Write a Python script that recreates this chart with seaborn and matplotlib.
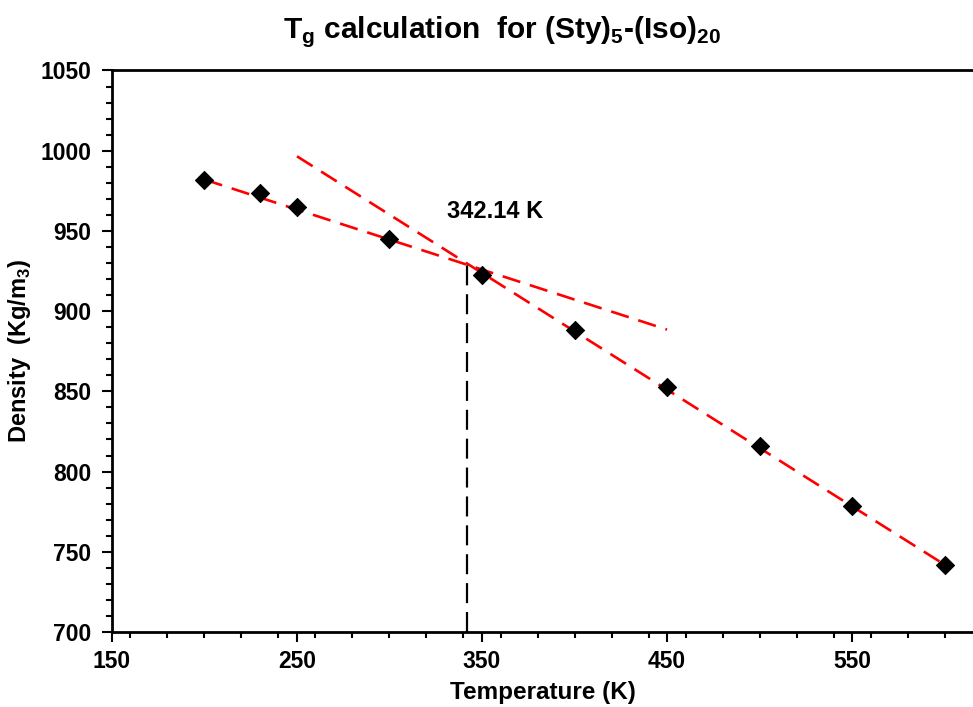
import numpy as np
import pandas as pd
import matplotlib
matplotlib.use("Agg")
import matplotlib.pyplot as plt
from matplotlib.ticker import MultipleLocator
import seaborn as sns

# data
temperature = [200, 230, 250, 300, 350, 400, 450, 500, 550, 600]
density = [982.0, 973.5, 965.0, 945.0, 922.5, 888.0, 852.5, 816.0, 778.5, 742.0]
density_err = [1.5, 1.5, 1.5, 1.5, 2.0, 2.5, 2.5, 2.0, 2.0, 2.0]

# glassy and rubbery fit lines (end points)
glass_T = [200, 450]
glass_rho = [982.0, 888.5]
rubber_T = [250, 600]
rubber_rho = [996.5, 742.0]

tg_value = 342.14
tg_rho = [700, 929.5]
tg_label = "342.14 K"

df = pd.DataFrame({"T": temperature, "rho": density})

sns.set_style("ticks")
plt.rcParams["font.family"] = ["Liberation Sans", "DejaVu Sans"]
plt.rcParams["font.weight"] = "bold"
plt.rcParams["text.color"] = "black"
plt.rcParams["axes.labelcolor"] = "black"
plt.rcParams["xtick.color"] = "black"
plt.rcParams["ytick.color"] = "black"
plt.rcParams["mathtext.fontset"] = "custom"
plt.rcParams["mathtext.rm"] = "Liberation Sans"
plt.rcParams["mathtext.bf"] = "Liberation Sans:bold"

fig = plt.figure(figsize=(9.73, 7.07), dpi=100)
ax = fig.add_axes([0.1151, 0.1061, 0.8849, 0.7942])

# fit lines
sns.lineplot(x=glass_T, y=glass_rho, ax=ax, color="#ff0000", lw=1.9, zorder=2)
sns.lineplot(x=rubber_T, y=rubber_rho, ax=ax, color="#ff0000", lw=1.9, zorder=2)
for ln in ax.lines:
    ln.set_dashes([7, 3.8])

# Tg marker line
ax.plot([tg_value, tg_value], tg_rho, color="black", lw=1.6, dashes=[9, 4], zorder=2)

# points
ax.errorbar(temperature, density, yerr=density_err, fmt="none", ecolor="black",
            elinewidth=1, capsize=2.5, zorder=3)
sns.scatterplot(data=df, x="T", y="rho", ax=ax, marker="D", color="black",
                s=85, edgecolor="black", zorder=4)

ax.text(331, 962, tg_label, fontsize=17, fontweight="bold", va="center", ha="left")

ax.set_xlim(150, 615.4)
ax.set_ylim(700, 1050)
ax.set_xticks([150, 250, 350, 450, 550])
ax.xaxis.set_minor_locator(MultipleLocator(20))
ax.yaxis.set_major_locator(MultipleLocator(50))
ax.yaxis.set_minor_locator(MultipleLocator(10))
ax.tick_params(which="major", length=7, width=1.5, labelsize=16.5, color="black")
ax.tick_params(axis="y", which="major", pad=8)
ax.tick_params(axis="x", which="major", pad=6)
ax.tick_params(which="minor", length=4.5, width=1.5, color="black")
for lab in ax.get_xticklabels() + ax.get_yticklabels():
    lab.set_fontweight("bold")

for side in ["left", "bottom", "top"]:
    ax.spines[side].set_visible(True)
    ax.spines[side].set_linewidth(2)
    ax.spines[side].set_color("black")
ax.spines["right"].set_visible(False)

ax.set_xlabel("Temperature (K)", fontsize=17.5, fontweight="bold", labelpad=6)
ax.set_ylabel(r"Density  (Kg/m$_\mathbf{3}$)", fontsize=17, fontweight="bold")
ax.yaxis.set_label_coords(-0.092, 0.5)

fig.text(0.516, 0.955, r"T$_\mathbf{g}$ calculation  for (Sty)$_\mathbf{5}$-(Iso)$_\mathbf{20}$",
         fontsize=21.5, fontweight="bold", ha="center", va="center")

fig.savefig("out.png", dpi=100, facecolor="white")
